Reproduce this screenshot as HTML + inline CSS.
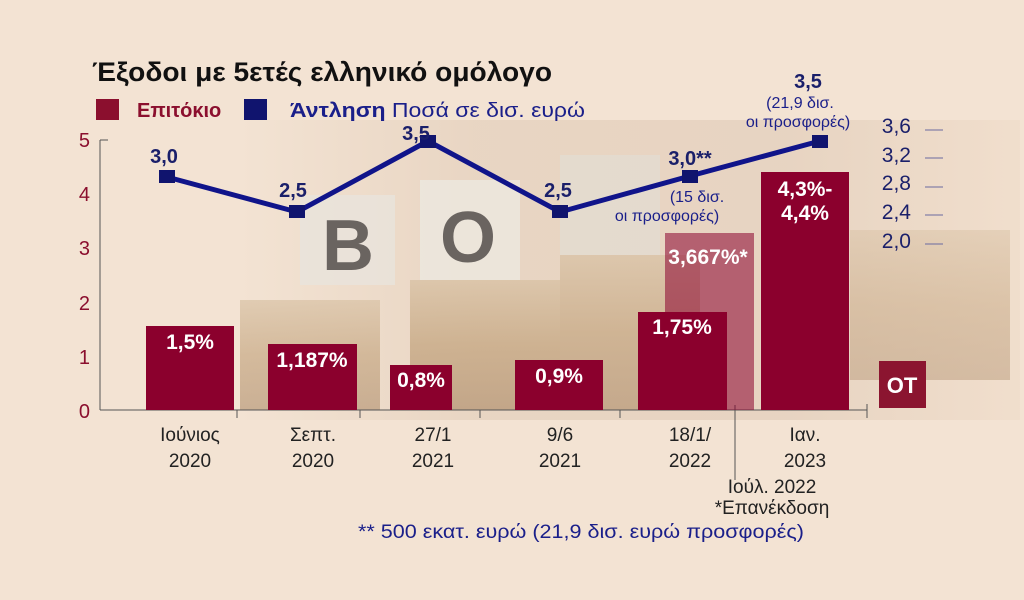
<!DOCTYPE html>
<html><head><meta charset="utf-8"><style>
body{margin:0;width:1024px;height:600px;overflow:hidden;background:#f3e3d3;font-family:"Liberation Sans","DejaVu Sans",sans-serif;}
svg{display:block}
</style></head><body>
<svg width="1024" height="600" xmlns="http://www.w3.org/2000/svg">
<defs>
<linearGradient id="bg" x1="0" y1="0" x2="1" y2="0">
<stop offset="0" stop-color="#f3e3d3"/><stop offset="0.3" stop-color="#e6d2bf"/><stop offset="0.7" stop-color="#e4d0bd"/><stop offset="1" stop-color="#f0ddcb"/></linearGradient>
<linearGradient id="coin" x1="0" y1="0" x2="0" y2="1">
<stop offset="0" stop-color="#d9c2a5"/><stop offset="0.5" stop-color="#c7a985"/><stop offset="1" stop-color="#b99a7a"/></linearGradient>
</defs>
<rect width="1024" height="600" fill="#f3e3d3"/>
<rect x="240" y="120" width="780" height="300" fill="url(#bg)" opacity="0.8"/>
<rect x="240" y="300" width="140" height="110" fill="url(#coin)" opacity="0.7"/>
<rect x="410" y="280" width="150" height="130" fill="url(#coin)" opacity="0.8"/>
<rect x="560" y="255" width="140" height="155" fill="url(#coin)" opacity="0.75"/>
<rect x="850" y="230" width="160" height="150" fill="url(#coin)" opacity="0.5"/>
<rect x="300" y="195" width="95" height="90" fill="#e8e4dc" opacity="0.8"/>
<text x="322" y="270" font-size="72" font-weight="bold" fill="#6a6460">B</text>
<rect x="420" y="180" width="100" height="100" fill="#ece8e0" opacity="0.8"/>
<text x="440" y="262" font-size="72" font-weight="bold" fill="#6a6460">O</text>
<rect x="560" y="155" width="100" height="100" fill="#e3ddd3" opacity="0.7"/>
<line x1="100" y1="140" x2="100" y2="410" stroke="#555" stroke-width="1"/>
<line x1="100" y1="140" x2="108" y2="140" stroke="#555"/>
<line x1="100" y1="410" x2="867" y2="410" stroke="#555"/>
<g stroke="#555"><line x1="237" y1="410" x2="237" y2="418"/><line x1="360" y1="410" x2="360" y2="418"/><line x1="480" y1="410" x2="480" y2="418"/><line x1="620" y1="410" x2="620" y2="418"/><line x1="867" y1="404" x2="867" y2="418"/><line x1="735" y1="405" x2="735" y2="480"/></g>
<g font-size="20" fill="#8b0f2e" text-anchor="end">
<text x="90" y="147">5</text><text x="90" y="201">4</text><text x="90" y="255">3</text><text x="90" y="310">2</text><text x="90" y="364">1</text><text x="90" y="418">0</text></g>
<g fill="#8b002d">
<rect x="146" y="326" width="88" height="84"/>
<rect x="268" y="344" width="89" height="66"/>
<rect x="390" y="365" width="62" height="45"/>
<rect x="515" y="360" width="88" height="50"/>
<rect x="665" y="233" width="89" height="177" opacity="0.55"/>
<rect x="638" y="312" width="89" height="98"/>
<rect x="761" y="172" width="88" height="238"/>
</g>
<rect x="879" y="361" width="47" height="47" fill="#8b1530"/>
<text x="902" y="393" font-size="22" font-weight="bold" fill="#fff" text-anchor="middle">OT</text>
<g font-size="21" font-weight="bold" fill="#fff" text-anchor="middle">
<text x="190" y="349">1,5%</text><text x="312" y="367">1,187%</text><text x="421" y="387">0,8%</text><text x="559" y="383">0,9%</text>
<text x="708" y="264">3,667%*</text><text x="682" y="334">1,75%</text><text x="805" y="196">4,3%-</text><text x="805" y="220">4,4%</text></g>
<polyline points="167,177 297,212 428,141 560,212 690,176 820,141" fill="none" stroke="#10148a" stroke-width="5"/>
<g fill="#10146e">
<rect x="159" y="170" width="16" height="13"/><rect x="289" y="205" width="16" height="13"/><rect x="420" y="135" width="16" height="13"/><rect x="552" y="205" width="16" height="13"/><rect x="682" y="170" width="16" height="13"/><rect x="812" y="135" width="16" height="13"/></g>
<g font-size="20" font-weight="bold" fill="#1a1f6a" text-anchor="middle">
<text x="164" y="163">3,0</text><text x="293" y="197">2,5</text><text x="416" y="140">3,5</text><text x="558" y="197">2,5</text><text x="690" y="165">3,0**</text><text x="808" y="88">3,5</text></g>
<g font-size="16" fill="#1a1f8a" text-anchor="middle">
<text x="800" y="108">(21,9 δισ.</text><text x="798" y="127">οι προσφορές)</text>
<text x="697" y="202">(15 δισ.</text><text x="667" y="221">οι προσφορές)</text></g>
<g font-size="21" fill="#1a1f6a" text-anchor="end">
<text x="911" y="133">3,6</text><text x="911" y="162">3,2</text><text x="911" y="190">2,8</text><text x="911" y="219">2,4</text><text x="911" y="248">2,0</text></g>
<g stroke="#6a6aa0" stroke-width="1"><line x1="925" y1="130" x2="943" y2="130"/><line x1="925" y1="158" x2="943" y2="158"/><line x1="925" y1="187" x2="943" y2="187"/><line x1="925" y1="215" x2="943" y2="215"/><line x1="925" y1="244" x2="943" y2="244"/></g>
<text x="92" y="81" font-size="27" font-weight="bold" fill="#111" textLength="460" lengthAdjust="spacingAndGlyphs">Έξοδοι με 5ετές ελληνικό ομόλογο</text>
<rect x="96" y="99" width="23" height="21" fill="#8b0f2e"/>
<text x="137" y="117" font-size="20" font-weight="bold" fill="#8b0f2e">Επιτόκιο</text>
<rect x="244" y="99" width="23" height="21" fill="#10146e"/>
<text x="290" y="117" font-size="20" fill="#1a1f8a" textLength="295" lengthAdjust="spacingAndGlyphs"><tspan font-weight="bold">Άντληση</tspan> Ποσά σε δισ. ευρώ</text>
<g font-size="19" fill="#222" text-anchor="middle">
<text x="190" y="441">Ιούνιος</text><text x="190" y="467">2020</text>
<text x="313" y="441">Σεπτ.</text><text x="313" y="467">2020</text>
<text x="433" y="441">27/1</text><text x="433" y="467">2021</text>
<text x="560" y="441">9/6</text><text x="560" y="467">2021</text>
<text x="690" y="441">18/1/</text><text x="690" y="467">2022</text>
<text x="805" y="441">Ιαν.</text><text x="805" y="467">2023</text>
<text x="772" y="493">Ιούλ. 2022</text><text x="772" y="514">*Επανέκδοση</text></g>
<text x="358" y="538" font-size="19" fill="#1a1f8a" textLength="446" lengthAdjust="spacingAndGlyphs">** 500 εκατ. ευρώ (21,9 δισ. ευρώ προσφορές)</text>
</svg>
</body></html>
